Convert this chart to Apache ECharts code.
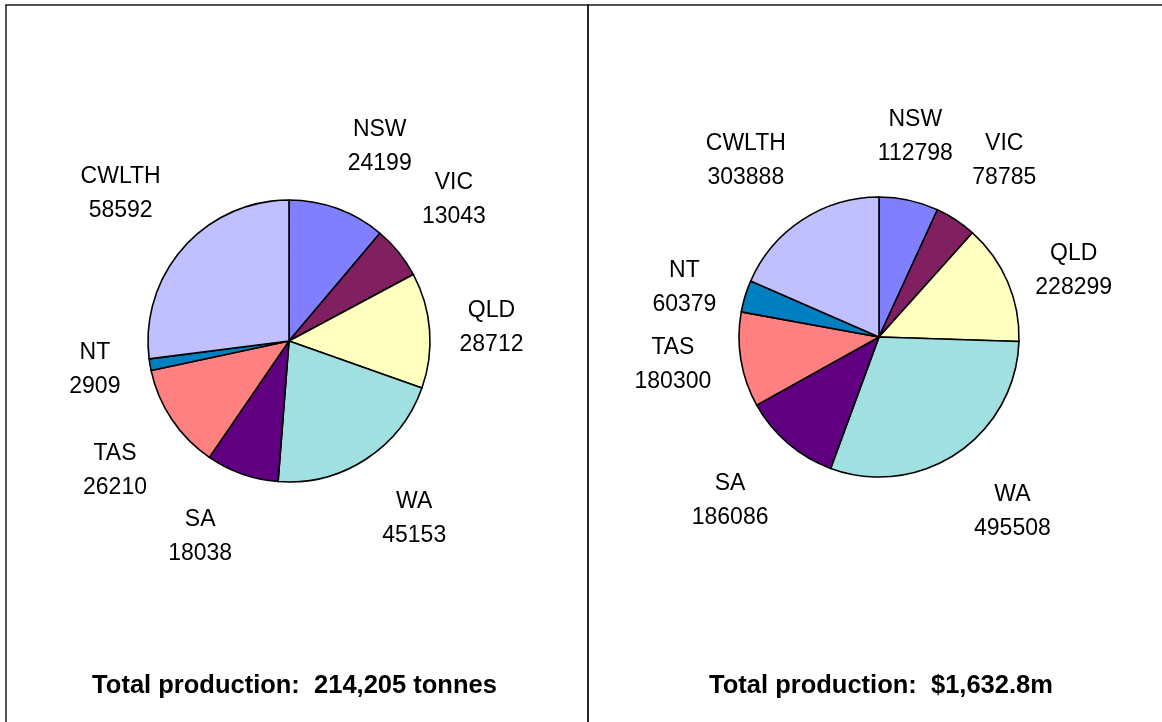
<!DOCTYPE html>
<html>
<head>
<meta charset="utf-8">
<script src="https://cdn.jsdelivr.net/npm/echarts@6/dist/echarts.min.js"></script>
<style>
html,body{margin:0;padding:0;background:#fff;}
#chart{width:1162px;height:722px;}
</style>
</head>
<body>
<div id="chart"></div>
<script>
const states = ['NSW','VIC','QLD','WA','SA','TAS','NT','CWLTH'];
const tonnes = [24199,13043,28712,45153,18038,26210,2909,58592];
const dollars = [112798,78785,228299,495508,186086,180300,60379,303888];
const colors = ['#8080FF','#802060','#FFFFC0','#A0E0E0','#600080','#FF8080','#0080C0','#C0C0FF'];
const titles = ['Total production:  214,205 tonnes','Total production:  $1,632.8m'];

const FONT = "'Liberation Sans', Arial, sans-serif";

function pieData(values){
  return states.map((s,i)=>({name:s,value:values[i],itemStyle:{color:colors[i]}}));
}
function labelData(values){
  return states.map((s,i)=>({name:s,value:values[i]}));
}

// Excel-like label anchoring: the label box corner nearest the pie sits on the slice's mid-angle ray;
// lines stay centred inside the box.
function excelLayout(cx, cy){
  return function(p){
    const r = p.labelRect;
    const ax = r.x + r.width/2, ay = r.y + r.height/2;
    const dx = ax - cx, dy = ay - cy;
    const len = Math.sqrt(dx*dx + dy*dy) || 1;
    const s = dx/len, c = -dy/len;
    const hx = Math.abs(s) < 0.25 ? 0 : (s > 0 ? 1 : -1);
    const vy = Math.abs(c) < 0.45 ? 0 : (c > 0 ? -1 : 1);
    return {x: ax + hx*r.width/2, y: ay + vy*r.height/2, align:'center', verticalAlign:'middle'};
  };
}

function pies(values, center, r){
  return [
    {
      type:'pie', center:center, radius:[0,r], startAngle:90, clockwise:true,
      avoidLabelOverlap:false, silent:true, animation:false,
      label:{show:false}, labelLine:{show:false},
      itemStyle:{borderColor:'#000',borderWidth:1.6},
      data:pieData(values)
    },
    {
      type:'pie', center:center, radius:[r+20,r+34], startAngle:90, clockwise:true,
      avoidLabelOverlap:false, silent:true, animation:false,
      itemStyle:{color:'rgba(0,0,0,0)',borderWidth:0},
      label:{show:true,position:'inside',formatter:'{b}\n{c}',color:'#000',
        fontFamily:FONT,fontSize:23,lineHeight:34,align:'center'},
      labelLine:{show:false},
      labelLayout:excelLayout(center[0],center[1]),
      emphasis:{disabled:true},
      data:labelData(values)
    }
  ];
}

const chart = echarts.init(document.getElementById('chart'),null,{renderer:'canvas'});
chart.setOption({
  backgroundColor:'#fff',
  animation:false,
  title:[
    {text:titles[0],left:289.5,top:668,textAlign:'center',
      textStyle:{fontFamily:FONT,fontSize:25.5,fontWeight:'bold',color:'#000'}},
    {text:titles[1],left:876,top:668,textAlign:'center',
      textStyle:{fontFamily:FONT,fontSize:25.5,fontWeight:'bold',color:'#000'}}
  ],
  graphic:[
    {type:'rect',shape:{x:6,y:5,width:582,height:800},style:{fill:null,stroke:'#1a1a1a',lineWidth:1.5},silent:true},
    {type:'rect',shape:{x:588,y:5,width:700,height:800},style:{fill:null,stroke:'#1a1a1a',lineWidth:1.5},silent:true}
  ],
  series:[].concat(pies(tonnes,[289,341],141), pies(dollars,[879,337],140))
});
</script>
</body>
</html>
